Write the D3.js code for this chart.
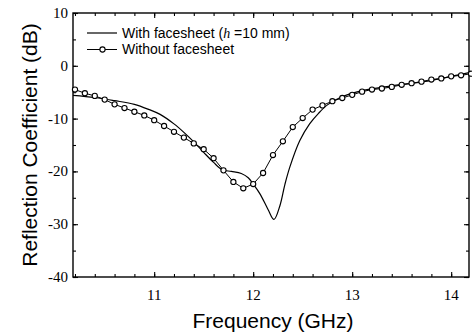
<!DOCTYPE html>
<html>
<head>
<meta charset="utf-8">
<script src="https://cdn.jsdelivr.net/npm/d3@7/dist/d3.min.js"></script>
<style>
  body { margin: 0; background: #fff; }
  svg { display: block; }
</style>
</head>
<body>
<svg id="chart" width="472" height="335"></svg>
<script>
// solid curve: with facesheet (h = 10 mm)
const withFreq = [10.18, 10.4, 10.6, 10.8, 10.95, 11.06, 11.2, 11.3, 11.4, 11.5, 11.6, 11.69, 11.78, 11.88, 11.95, 12.0, 12.07, 12.15, 12.21, 12.27, 12.32, 12.37, 12.47, 12.57, 12.66, 12.75, 12.88, 13.08, 13.4, 13.76, 14.18];
const withDb = [-5.6, -6.0, -6.6, -7.3, -8.3, -9.2, -11.0, -12.6, -14.4, -16.4, -18.3, -19.7, -20.0, -20.4, -21.2, -22.4, -24.3, -27.2, -29.1, -26.5, -22.5, -19.2, -14.2, -11.0, -9.0, -7.4, -6.0, -4.8, -3.8, -2.9, -1.3];

// circles: without facesheet
const withoutFreq = [10.2, 10.3, 10.4, 10.5, 10.6, 10.7, 10.8, 10.9, 11.0, 11.1, 11.2, 11.3, 11.4, 11.5, 11.6, 11.7, 11.8, 11.9, 12.0, 12.1, 12.2, 12.3, 12.4, 12.5, 12.6, 12.7, 12.8, 12.9, 13.0, 13.1, 13.2, 13.3, 13.4, 13.5, 13.6, 13.7, 13.8, 13.9, 14.0, 14.1, 14.2];
const withoutDb = [-4.5, -5.2, -5.7, -6.4, -7.3, -8.0, -8.7, -9.4, -10.3, -11.4, -12.5, -13.6, -14.7, -15.8, -17.5, -19.8, -22.0, -23.2, -22.4, -20.3, -16.9, -14.3, -11.6, -9.9, -8.3, -7.5, -6.7, -6.1, -5.5, -4.9, -4.5, -4.3, -4.0, -3.6, -3.3, -3.0, -2.6, -2.4, -2.0, -1.8, -1.5];

const xTicks = [11, 12, 13, 14];
const yTicks = [10, 0, -10, -20, -30, -40];

const svg = d3.select('#chart');
const PL = 73, PR = 469, PT = 13, PB = 277;
const SANS = 'Liberation Sans, Arial, sans-serif';
const SERIF = 'Liberation Serif, Times New Roman, serif';

const x = d3.scaleLinear().domain([10.18, 14.18]).range([PL, PR]);
const y = d3.scaleLinear().domain([-40, 10]).range([PB, PT]);

const minorX = d3.range(10.2, 14.19, 0.2);
const minorY = d3.range(-40, 10.1, 5);

// ticks pointing inward on all four sides
function tickAxis(axis, tr, vals, size) {
    svg.append('g').attr('transform', tr)
        .call(axis.tickValues(vals).tickSize(size).tickFormat(''))
        .call(g => g.select('.domain').remove())
        .call(g => g.selectAll('line').attr('stroke', '#000').attr('stroke-width', 1.1));
}
tickAxis(d3.axisTop(x), `translate(0,${PB})`, minorX, 3);
tickAxis(d3.axisBottom(x), `translate(0,${PT})`, minorX, 3);
tickAxis(d3.axisTop(x), `translate(0,${PB})`, xTicks, 5);
tickAxis(d3.axisBottom(x), `translate(0,${PT})`, xTicks, 5);
tickAxis(d3.axisRight(y), `translate(${PL},0)`, minorY, 3);
tickAxis(d3.axisLeft(y), `translate(${PR},0)`, minorY, 3);
tickAxis(d3.axisRight(y), `translate(${PL},0)`, yTicks, 5);
tickAxis(d3.axisLeft(y), `translate(${PR},0)`, yTicks, 5);

svg.append('rect').attr('x', PL).attr('y', PT)
    .attr('width', PR - PL).attr('height', PB - PT)
    .attr('fill', 'none').attr('stroke', '#000').attr('stroke-width', 1.4);

// tick labels
svg.append('g').selectAll('text').data(xTicks).enter().append('text')
    .attr('x', d => x(d)).attr('y', 300)
    .attr('text-anchor', 'middle')
    .attr('font-family', SERIF).attr('font-size', 15)
    .text(d => d);
svg.append('g').selectAll('text').data(yTicks).enter().append('text')
    .attr('x', 68).attr('y', d => y(d) + 5)
    .attr('text-anchor', 'end')
    .attr('font-family', SERIF).attr('font-size', 15)
    .text(d => d);

// axis titles
svg.append('text').attr('x', 273).attr('y', 328).attr('text-anchor', 'middle')
    .attr('font-family', SANS).attr('font-size', 21)
    .text('Frequency (GHz)');
svg.append('text').attr('transform', 'translate(37,145) rotate(-90)').attr('text-anchor', 'middle')
    .attr('font-family', SANS).attr('font-size', 21)
    .text('Reflection Coefficient (dB)');

const plot = svg.append('g');

const solidLine = d3.line().x(d => x(d[0])).y(d => y(d[1])).curve(d3.curveCatmullRom.alpha(0.5));
plot.append('path').datum(d3.zip(withFreq, withDb))
    .attr('d', solidLine).attr('fill', 'none').attr('stroke', '#000').attr('stroke-width', 1.2);

const circData = d3.zip(withoutFreq, withoutDb);
const circLine = d3.line().x(d => x(d[0])).y(d => y(d[1]));
plot.append('path').datum(circData)
    .attr('d', circLine).attr('fill', 'none').attr('stroke', '#000').attr('stroke-width', 1);
plot.selectAll('circle').data(circData).enter().append('circle')
    .attr('cx', d => x(d[0])).attr('cy', d => y(d[1])).attr('r', 2.6)
    .attr('fill', '#fff').attr('stroke', '#000').attr('stroke-width', 1.1);

// legend
const lg = svg.append('g').attr('font-family', SANS).attr('font-size', 14);
lg.append('line').attr('x1', 87).attr('x2', 117).attr('y1', 33).attr('y2', 33)
    .attr('stroke', '#000').attr('stroke-width', 1.2);
const t1 = lg.append('text').attr('x', 122).attr('y', 37.5);
t1.append('tspan').text('With facesheet (');
t1.append('tspan').attr('font-style', 'italic').attr('font-family', SERIF).text('h');
t1.append('tspan').text(' =10 mm)');
lg.append('line').attr('x1', 87).attr('x2', 117).attr('y1', 49.5).attr('y2', 49.5)
    .attr('stroke', '#000').attr('stroke-width', 1);
lg.append('circle').attr('cx', 102.5).attr('cy', 49.5).attr('r', 2.6)
    .attr('fill', '#fff').attr('stroke', '#000').attr('stroke-width', 1.1);
lg.append('text').attr('x', 122).attr('y', 54).text('Without facesheet');
</script>
</body>
</html>
